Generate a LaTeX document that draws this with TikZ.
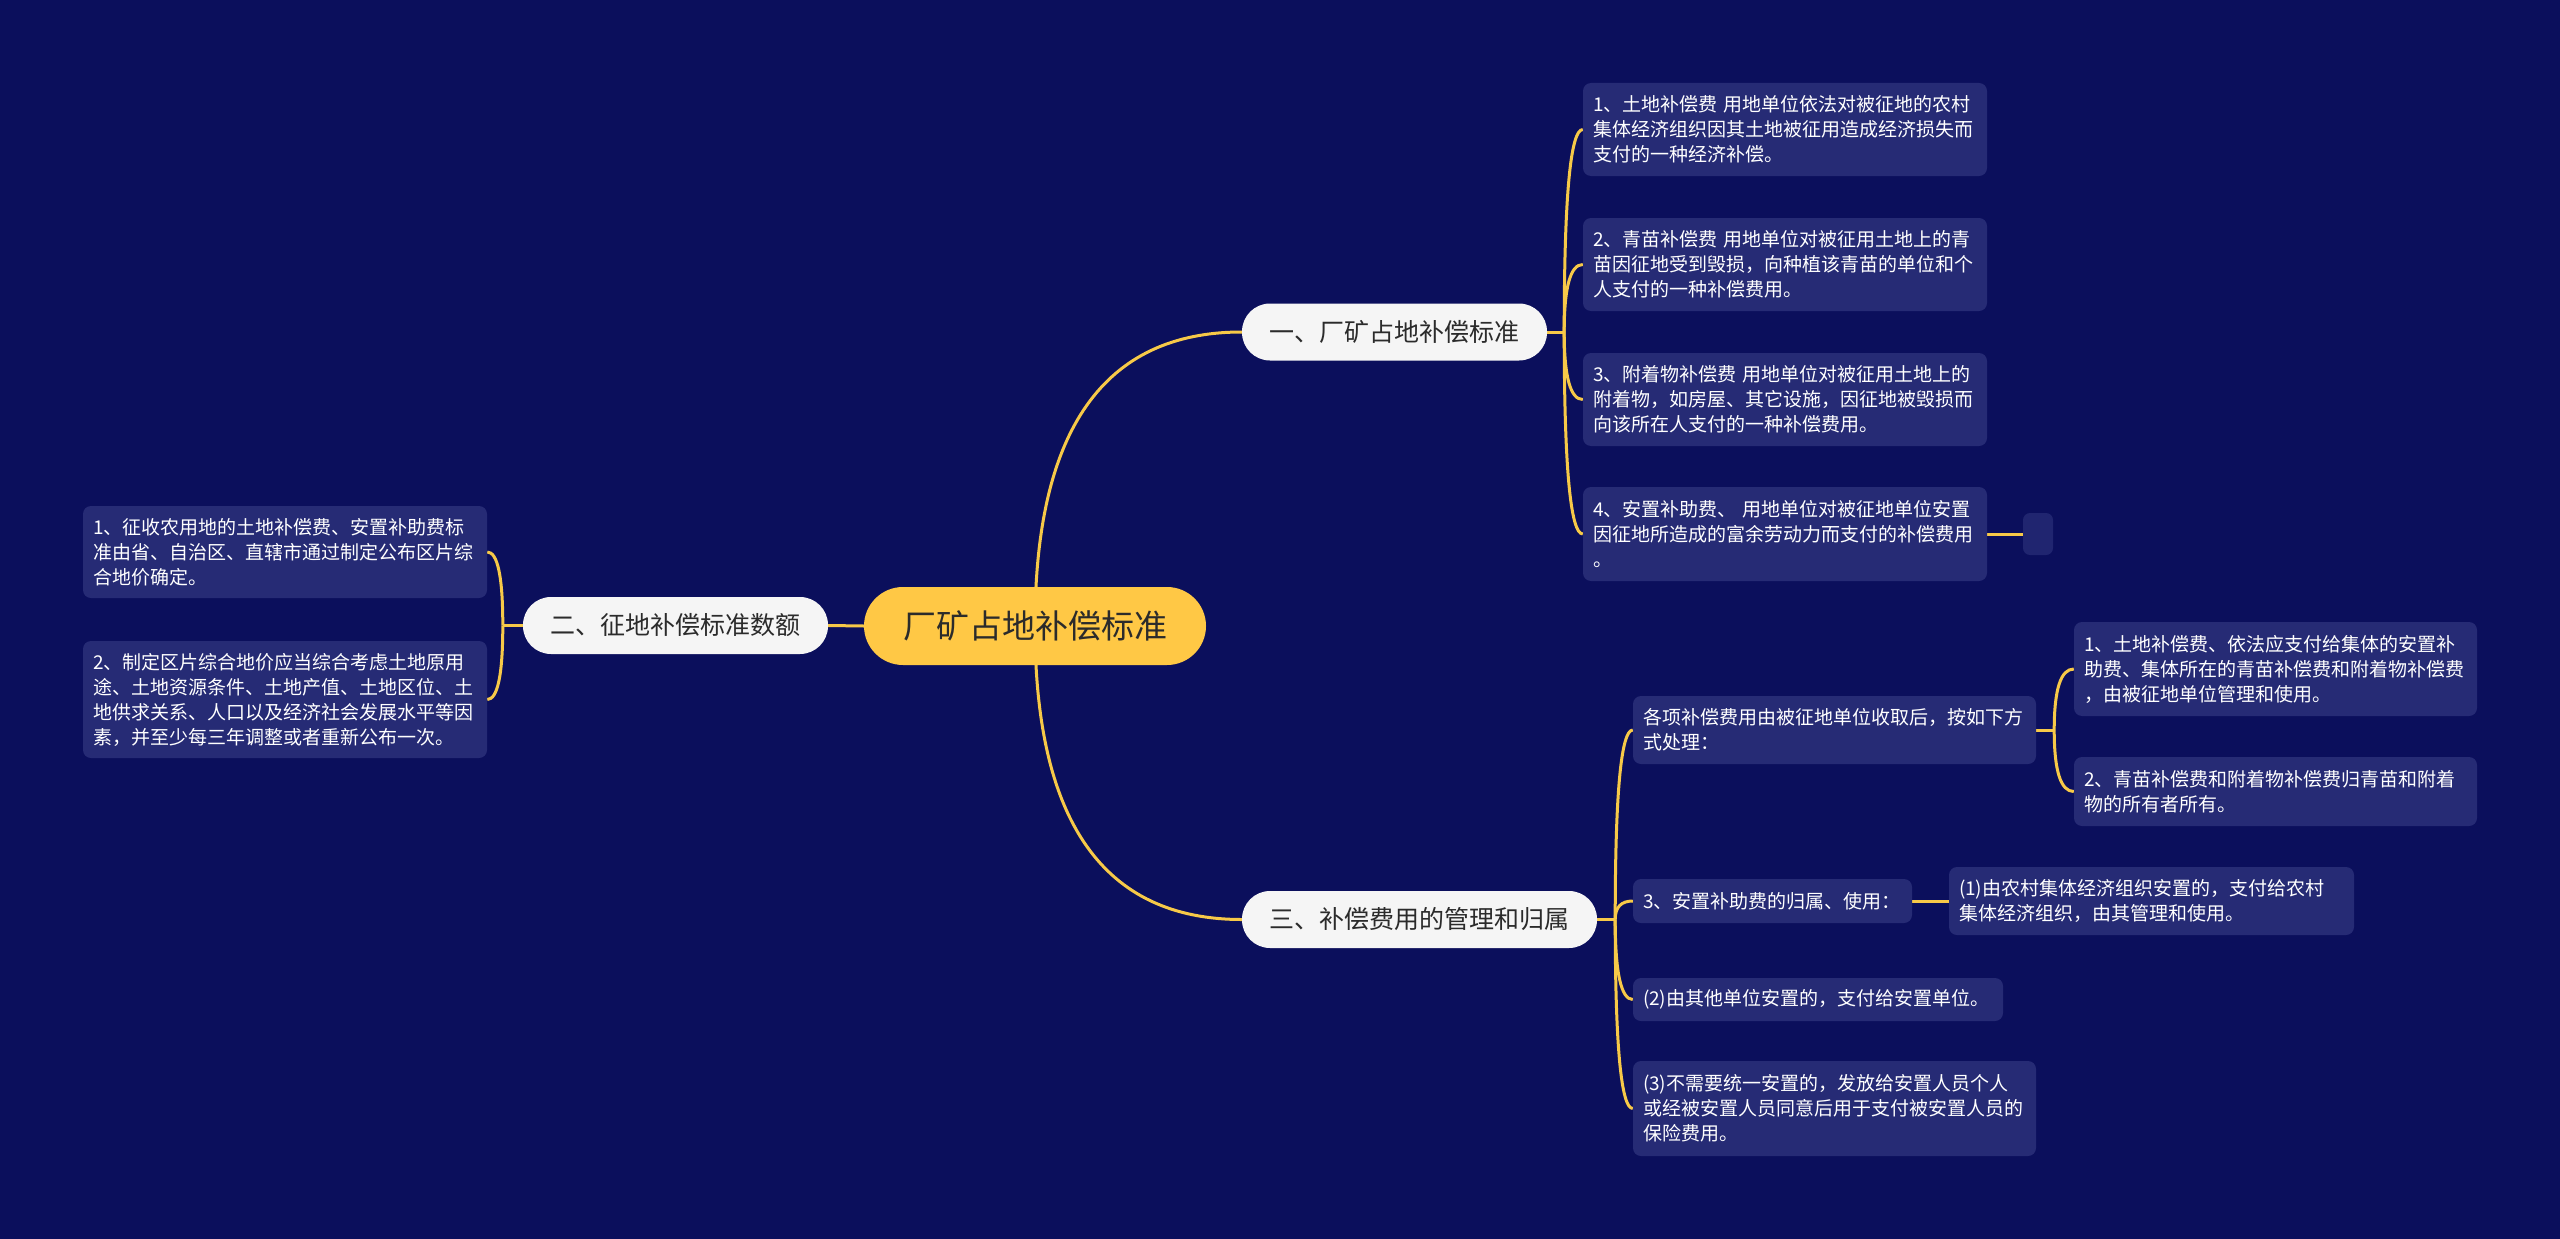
\documentclass[tikz,border=0pt]{standalone}
\usepackage{fontspec}
\setmainfont{Noto Sans CJK SC}
\usetikzlibrary{calc}
\pgfdeclarelayer{back}
\pgfdeclarelayer{bg}
\pgfsetlayers{back,bg,main}
\definecolor{navy}{HTML}{0B0F5C}
\definecolor{leaffill}{HTML}{262B75}
\definecolor{linecol}{HTML}{F7C948}
\definecolor{mainfill}{HTML}{FFC845}
\definecolor{brfill}{HTML}{F5F5F5}
\definecolor{darktext}{HTML}{2B2B2B}
\tikzset{
  leaf/.style={fill=leaffill, rounded corners=8pt, text=white, align=left,
    inner xsep=10pt, inner ysep=0pt, font=\fontsize{19}{25}\selectfont, anchor=center},
  branch/.style={fill=brfill, rounded corners=28pt, text=darktext, inner sep=0pt,
    font=\fontsize{25}{30}\selectfont, anchor=center, minimum height=57pt},
  rootnode/.style={fill=mainfill, rounded corners=39pt, text=darktext, inner sep=0pt,
    font=\fontsize{33}{40}\selectfont, anchor=center, minimum height=78pt, minimum width=342pt},
  conn/.style={draw=linecol, line width=3pt},
}
\newcommand\qlink[2]{%
  \draw[conn] (#1) .. controls ($(#1)!0.667!(#1|-#2)$) and ($(#2)!0.667!(#1|-#2)$) .. (#2);}
\begin{document}
\begin{tikzpicture}[x=1pt,y=-1pt]
\begin{pgfonlayer}{back}
\fill[navy] (0,0) rectangle (2560,1239);
\end{pgfonlayer}
\useasboundingbox (0,0) rectangle (2560,1239);

% root and branches
\node[rootnode] (root) at (1035,626) {厂矿占地补偿标准};
\node[branch, minimum width=305pt] (b1) at (1394.5,332) {一、厂矿占地补偿标准};
\node[branch, minimum width=305pt] (b2) at (675.5,625.5) {二、征地补偿标准数额};
\node[branch, minimum width=355pt] (b3) at (1419.5,919.5) {三、补偿费用的管理和归属};

% branch 1 leaves
\node[leaf, text width=384pt, minimum height=93pt] (r1) at (1785,129.5)
  {1、土地补偿费 用地单位依法对被征地的农村\\集体经济组织因其土地被征用造成经济损失而\\支付的一种经济补偿。};
\node[leaf, text width=384pt, minimum height=93pt] (r2) at (1785,264.5)
  {2、青苗补偿费 用地单位对被征用土地上的青\\苗因征地受到毁损，向种植该青苗的单位和个\\人支付的一种补偿费用。};
\node[leaf, text width=384pt, minimum height=93pt] (r3) at (1785,399.5)
  {3、附着物补偿费 用地单位对被征用土地上的\\附着物，如房屋、其它设施，因征地被毁损而\\向该所在人支付的一种补偿费用。};
\node[leaf, text width=384pt, minimum height=94pt] (r4) at (1785,534)
  {4、安置补助费、 用地单位对被征地单位安置\\因征地所造成的富余劳动力而支付的补偿费用\\。};
\node[fill=leaffill, fill opacity=0.8, rounded corners=7pt, minimum width=30pt, minimum height=42pt, inner sep=0pt] (r4e) at (2038,534) {};

% branch 2 leaves
\node[leaf, text width=384pt, minimum height=92pt] (l1) at (285,552)
  {1、征收农用地的土地补偿费、安置补助费标\\准由省、自治区、直辖市通过制定公布区片综\\合地价确定。};
\node[leaf, text width=384pt, minimum height=117pt] (l2) at (285,699.5)
  {2、制定区片综合地价应当综合考虑土地原用\\途、土地资源条件、土地产值、土地区位、土\\地供求关系、人口以及经济社会发展水平等因\\素，并至少每三年调整或者重新公布一次。};

% branch 3 leaves
\node[leaf, text width=383pt, minimum height=68pt] (a) at (1834.5,730)
  {各项补偿费用由被征地单位收取后，按如下方\\式处理：};
\node[leaf, text width=383pt, minimum height=94pt] (a1) at (2275.5,669)
  {1、土地补偿费、依法应支付给集体的安置补\\助费、集体所在的青苗补偿费和附着物补偿费\\，由被征地单位管理和使用。};
\node[leaf, text width=383pt, minimum height=69pt] (a2) at (2275.5,791.5)
  {2、青苗补偿费和附着物补偿费归青苗和附着\\物的所有者所有。};
\node[leaf, text width=259pt, minimum height=44pt] (bb) at (1772.5,901)
  {3、安置补助费的归属、使用：};
\node[leaf, text width=385pt, minimum height=68pt] (bb1) at (2151.5,901)
  {(1)由农村集体经济组织安置的，支付给农村\\集体经济组织，由其管理和使用。};
\node[leaf, text width=350pt, minimum height=43pt] (cc) at (1818,999.5)
  {(2)由其他单位安置的，支付给安置单位。};
\node[leaf, text width=383pt, minimum height=95pt] (dd) at (1834.5,1108.5)
  {(3)不需要统一安置的，发放给安置人员个人\\或经被安置人员同意后用于支付被安置人员的\\保险费用。};

% connectors
\begin{pgfonlayer}{bg}
\qlink{root.center}{b1.west}
\qlink{root.center}{b3.west}
\draw[conn] (root.west) -- (b2.east);

\coordinate (t1) at ($(b1.east)+(17,0)$);
\draw[conn] (b1.east) -- (t1);
\qlink{t1}{r1.west}
\qlink{t1}{r2.west}
\qlink{t1}{r3.west}
\qlink{t1}{r4.west}
\draw[conn] (r4.east) -- (r4e.west);

\coordinate (t2) at ($(b2.west)+(-20,0)$);
\draw[conn] (b2.west) -- (t2);
\qlink{t2}{l1.east}
\qlink{t2}{l2.east}

\coordinate (t3) at ($(b3.east)+(18,0)$);
\draw[conn] (b3.east) -- (t3);
\qlink{t3}{a.west}
\qlink{t3}{bb.west}
\qlink{t3}{cc.west}
\qlink{t3}{dd.west}

\coordinate (t4) at ($(a.east)+(18,0)$);
\draw[conn] (a.east) -- (t4);
\qlink{t4}{a1.west}
\qlink{t4}{a2.west}

\draw[conn] (bb.east) -- (bb1.west);
\end{pgfonlayer}
\end{tikzpicture}
\end{document}
